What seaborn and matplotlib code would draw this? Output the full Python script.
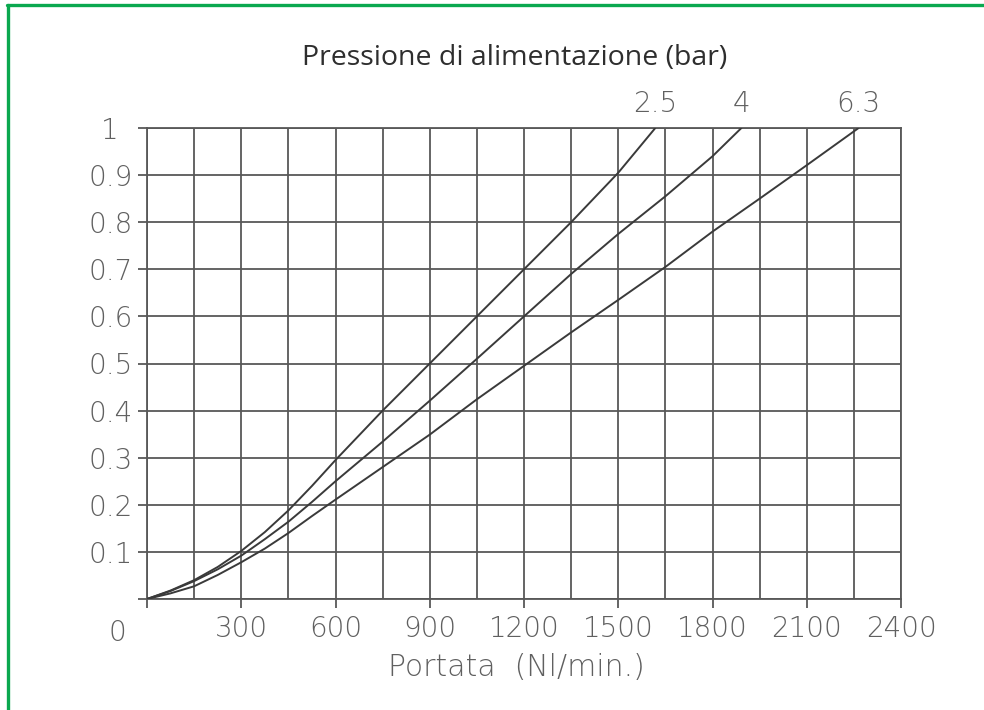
import matplotlib
matplotlib.use("Agg")
import matplotlib.pyplot as plt
from matplotlib.lines import Line2D
import numpy as np
import pandas as pd
import seaborn as sns

# Flow rate (Nl/min) and pressure drop (bar) for each supply pressure
flow_25 = [0, 75, 150, 225, 300, 375, 450, 525, 600, 750, 900, 1050, 1200, 1350, 1500, 1618]
drop_25 = [0, 0.018, 0.040, 0.068, 0.102, 0.142, 0.188, 0.240, 0.295, 0.400, 0.500,
           0.600, 0.700, 0.800, 0.905, 1.0]

flow_4 = [0, 75, 150, 225, 300, 375, 450, 525, 600, 750, 900, 1050, 1200, 1350, 1500,
          1650, 1800, 1892]
drop_4 = [0, 0.017, 0.038, 0.063, 0.092, 0.127, 0.164, 0.206, 0.250, 0.334, 0.421,
          0.510, 0.600, 0.690, 0.775, 0.855, 0.940, 1.0]

flow_63 = [0, 75, 150, 225, 300, 375, 450, 525, 600, 750, 900, 1050, 1200, 1350, 1500,
           1650, 1800, 1950, 2100, 2265]
drop_63 = [0, 0.012, 0.027, 0.051, 0.078, 0.107, 0.140, 0.176, 0.211, 0.280, 0.349,
           0.424, 0.495, 0.566, 0.635, 0.705, 0.780, 0.850, 0.921, 1.0]

pressures = ["2.5", "4", "6.3"]
x_ticks = [0, 300, 600, 900, 1200, 1500, 1800, 2100, 2400]
y_ticks = [0, 0.1, 0.2, 0.3, 0.4, 0.5, 0.6, 0.7, 0.8, 0.9, 1.0]
y_tick_labels = ["", "0.1", "0.2", "0.3", "0.4", "0.5", "0.6", "0.7", "0.8", "0.9", "1"]

frames = []
for name, fx, fy in zip(pressures, [flow_25, flow_4, flow_63], [drop_25, drop_4, drop_63]):
    frames.append(pd.DataFrame({"flow": fx, "drop": fy, "pressure": name}))
data = pd.concat(frames, ignore_index=True)

sns.set_style("white")
plt.rcParams["font.family"] = ["DejaVu Sans"]

grid_c = "#585858"
text_c = "#606060"
line_c = "#3a3a3a"
fs = 20

fig = plt.figure(figsize=(9.84, 7.10), dpi=100)
ax = fig.add_axes([147 / 984, 1 - 599 / 710, (901 - 147) / 984, (599 - 128) / 710])

sns.lineplot(data=data, x="flow", y="drop", hue="pressure",
             palette=[line_c] * 3, linewidth=1.4, legend=False,
             sort=False, estimator=None, ax=ax, zorder=3)

ax.set_xlim(0, 2400)
ax.set_ylim(0, 1)
ax.set_xticks(x_ticks)
ax.set_xticks(np.arange(150, 2400, 300), minor=True)
ax.set_xticklabels([""] + [str(v) for v in x_ticks[1:]])
ax.set_yticks(y_ticks)
ax.set_yticklabels(y_tick_labels)

ax.grid(True, which="both", color=grid_c, linewidth=1.3)
ax.set_axisbelow(True)
for sp in ax.spines.values():
    sp.set_visible(True)
    sp.set_color(grid_c)
    sp.set_linewidth(1.3)

ax.tick_params(axis="x", which="major", direction="out", length=6.5, width=1.3,
               color=grid_c, pad=5, labelsize=fs, labelcolor=text_c, bottom=True)
ax.tick_params(axis="x", which="minor", length=0)
ax.tick_params(axis="y", which="major", direction="out", length=6.5, width=1.3,
               color=grid_c, pad=20, labelsize=fs, labelcolor=text_c, left=True)
for lab in ax.get_yticklabels():
    lab.set_horizontalalignment("center")
for lab in ax.get_xticklabels() + ax.get_yticklabels():
    lab.set_fontweight("light")

ax.set_xlabel("Portata  (Nl/min.)", fontsize=21.5, color=text_c, fontweight="light",
              labelpad=9)
ax.xaxis.set_label_coords(0.49, -0.115)
ax.set_ylabel("")

# origin label sits left of the corner
ax.text(-95, -0.072, "0", ha="center", va="center", fontsize=fs, color=text_c,
        fontweight="light", clip_on=False)

# supply pressure labels above the curve ends
for name, fx in zip(pressures, [flow_25, flow_4, flow_63]):
    ax.text(fx[-1], 1.05, name, ha="center", va="center", fontsize=fs,
            color=text_c, fontweight="light", clip_on=False)

fig.text(515 / 984, 1 - 58 / 710, "Pressione di alimentazione (bar)",
         ha="center", va="center", fontsize=20.5, color="#2e2e2e",
         family=["Open Sans", "DejaVu Sans"])

# green frame on top and left edges
green = "#0aa84f"
fig.add_artist(Line2D([7 / 984, 1.0], [1 - 5 / 710, 1 - 5 / 710], color=green,
                      linewidth=2.4, transform=fig.transFigure))
fig.add_artist(Line2D([8 / 984, 8 / 984], [0, 1 - 5 / 710], color=green,
                      linewidth=2.4, transform=fig.transFigure))

fig.savefig("out.png", dpi=100)
